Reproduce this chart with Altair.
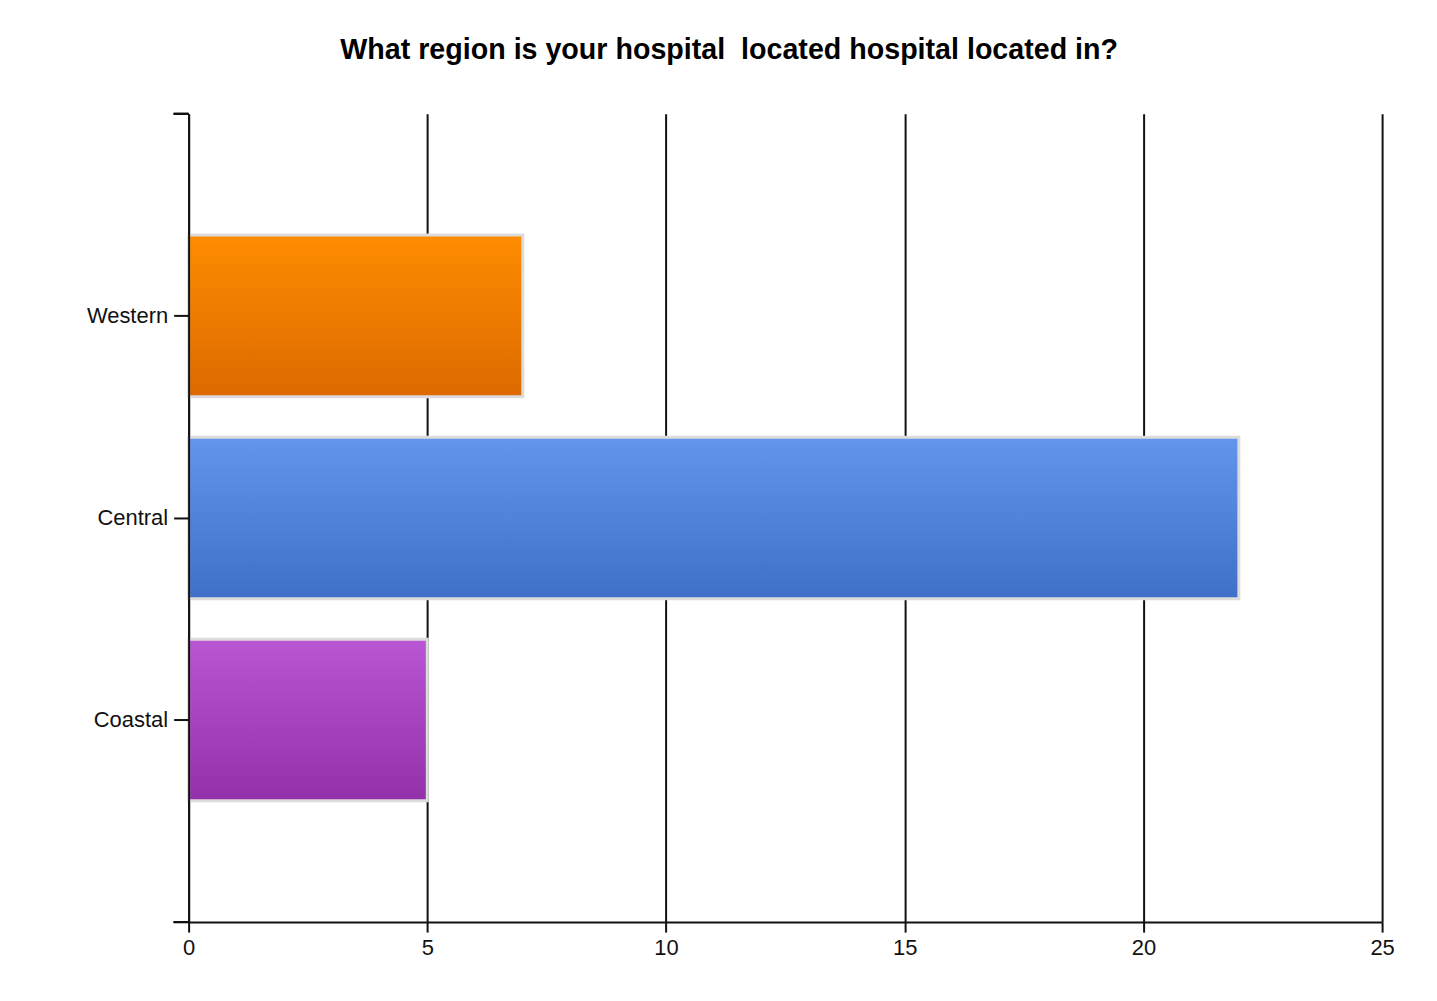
import altair as alt
import pandas as pd

categories = ["Western", "Central", "Coastal"]
values = [7, 22, 5]
grad_top = ["#FF8C00", "#6495ED", "#BA55D3"]
grad_bottom = ["#DC6A00", "#3F6FC6", "#9430AA"]
x_ticks = [0, 5, 10, 15, 20, 25]
title_text = "What region is your hospital \u00a0located hospital located in?"

df = pd.DataFrame({"region": categories, "count": values})

FONT = "Liberation Sans"

x_enc = alt.X(
    "count:Q",
    scale=alt.Scale(domain=[0, 25], nice=False),
    axis=alt.Axis(
        values=x_ticks, title=None, grid=True, gridColor="#111111", gridWidth=2,
        gridOpacity=1, domainColor="#111111", domainWidth=2, tickColor="#111111",
        tickWidth=2, tickSize=10, labelFontSize=22, labelFont=FONT,
        labelColor="#111111", labelPadding=5, labelFlush=False, zindex=0,
    ),
)
y_enc = alt.Y(
    "region:N",
    sort=categories,
    scale=alt.Scale(paddingInner=0.2, paddingOuter=0.6),
    axis=alt.Axis(
        title=None, grid=False, domainColor="#111111", domainWidth=2,
        tickColor="#111111", tickWidth=2, tickSize=15, labelFontSize=22,
        labelFont=FONT, labelColor="#111111", labelPadding=6, zindex=1,
    ),
)

base = alt.Chart(df)
layers = []
for cat, top, bot in zip(categories, grad_top, grad_bottom):
    layers.append(
        base.transform_filter(alt.datum.region == cat)
        .mark_bar(
            fill=alt.Gradient(
                gradient="linear",
                stops=[alt.GradientStop(color=top, offset=0), alt.GradientStop(color=bot, offset=1)],
                x1=0, x2=0, y1=0, y2=1,
            ),
            stroke="#dcdcdc", strokeWidth=3,
        )
        .encode(x=x_enc, y=y_enc)
    )

# extend axes with the small corner ticks of the original frame
corner_top = base.mark_rule(color="#111111", strokeWidth=2).encode(
    x=alt.value(-15), x2=alt.value(0), y=alt.value(0)
)
corner_bottom = base.mark_rule(color="#111111", strokeWidth=2).encode(
    x=alt.value(-15), x2=alt.value(0), y=alt.value(810)
)

chart = (
    alt.layer(*layers, corner_top, corner_bottom)
    .properties(
        width=1196,
        height=810,
        autosize=alt.AutoSizeParams(type="none"),
        padding={"left": 181, "top": 105, "right": 47, "bottom": 70},
        background="white",
        title=alt.TitleParams(
            text=title_text, anchor="start", frame="group", dx=152, offset=25,
            baseline="alphabetic", fontSize=28.7, font=FONT, fontWeight="bold",
            color="#000000",
        ),
    )
    .configure_view(stroke=None)
)

chart.save("out.html", embed_options={"renderer": "svg", "actions": False})
